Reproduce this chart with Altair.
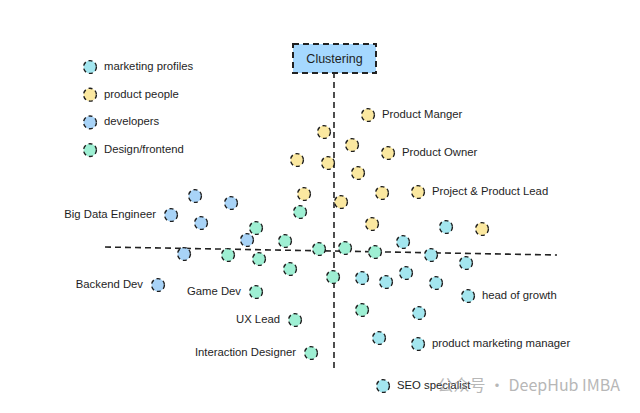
import altair as alt
import pandas as pd

# ---- data (position on the two clustering axes; centre = crossing point) ----
groups = ["marketing profiles", "product people", "developers", "Design/frontend"]
colors = ["#a3e6ef", "#fbe8a0", "#a8d3f7", "#9eefd3"]

marketing_x = [112, 69, 97, 132, 28, 52, 72, 102, 134, 85, 45, 84, 49]
marketing_y = [23, 8, -5, -13, -28, -32, -23, -33, -46, -63, -88, -94, -136]
marketing_lbl = ["", "", "", "", "", "", "", "", "head of growth", "", "",
                 "product marketing manager", "SEO specialist"]

product_x = [34, -10, 18, 54, -37, -6, 24, -30, 7, 48, 84, 38, 148]
product_y = [135, 118, 105, 97, 90, 87, 77, 56, 48, 57, 58, 26, 21]
product_lbl = ["Product Manger", "", "", "Product Owner", "", "", "", "", "", "",
               "Project & Product Lead", "", ""]

dev_x = [-139, -103, -163, -133, -87, -150, -176]
dev_y = [54, 47, 35, 27, 10, -4, -35]
dev_lbl = ["", "", "Big Data Engineer", "", "", "", "Backend Dev"]

design_x = [-34, -78, -49, -106, -75, -15, -44, -1, -78, -39, -23, 11, 41, 28]
design_y = [38, 22, 9, -5, -9, 1, -19, -27, -42, -70, -103, 2, -2, -60]
design_lbl = ["", "", "", "", "", "", "", "", "Game Dev", "UX Lead",
              "Interaction Designer", "", "", ""]

title_text = "Clustering"
watermark = "公众号 · DeepHub IMBA"

# ---- build tables ----
rows = []
for g, xs, ys, ls in [
    (groups[0], marketing_x, marketing_y, marketing_lbl),
    (groups[1], product_x, product_y, product_lbl),
    (groups[2], dev_x, dev_y, dev_lbl),
    (groups[3], design_x, design_y, design_lbl),
]:
    for x, y, l in zip(xs, ys, ls):
        side = "left" if g in ("developers", "Design/frontend") else "right"
        rows.append({"x": x, "y": y, "group": g, "label": l, "side": side})
pts = pd.DataFrame(rows)

legend_top, legend_step, legend_x = 183, -27.7, -244
legend = pd.DataFrame({
    "group": groups,
    "x": [legend_x] * 4,
    "y": [legend_top + i * legend_step for i in range(4)],
})

axes_df = pd.DataFrame({"x": [0, -229], "y": [-118, 3], "x2": [0, 223], "y2": [177, -5]})
box_df = pd.DataFrame({"x": [-41], "x2": [42], "y": [177], "y2": [206], "t": [title_text]})
wm_df = pd.DataFrame({"x": [286], "y": [-136], "t": [watermark]})

W, H = 624, 397
xs = alt.Scale(domain=[-326, 298], nice=False, zero=False)
ys = alt.Scale(domain=[-155, 242], nice=False, zero=False)
X = lambda f="x": alt.X(f"{f}:Q", scale=xs, axis=None)
Y = lambda f="y": alt.Y(f"{f}:Q", scale=ys, axis=None)
fill = alt.Fill("group:N", scale=alt.Scale(domain=groups, range=colors), legend=None)

FONT = "Liberation Sans"
FS = 11.3

rules = alt.Chart(axes_df).mark_rule(
    color="#222", strokeWidth=1.6, strokeDash=[6, 4]
).encode(x=X(), y=Y(), x2="x2:Q", y2="y2:Q")

box = alt.Chart(box_df).mark_rect(
    fill="#a5d8ff", stroke="#222", strokeWidth=2, strokeDash=[6, 4]
).encode(x=X(), x2="x2:Q", y=Y(), y2="y2:Q")

box_text = alt.Chart(box_df).mark_text(
    font=FONT, fontSize=12.5, color="#1e1e1e"
).encode(x=alt.X("mid:Q", scale=xs, axis=None), y=alt.Y("midy:Q", scale=ys, axis=None),
         text="t:N").transform_calculate(mid="(datum.x + datum.x2)/2", midy="(datum.y + datum.y2)/2")

point_style = dict(shape="circle", filled=True, size=165, stroke="#1e1e1e",
                   strokeWidth=1.4, strokeDash=[4, 3], opacity=1, fillOpacity=1)

points = alt.Chart(pts).mark_point(**point_style).encode(x=X(), y=Y(), fill=fill)

lbl_right = alt.Chart(pts).transform_filter(
    "datum.label != '' && datum.side == 'right'"
).mark_text(align="left", dx=14, font=FONT, fontSize=FS, color="#1e1e1e").encode(
    x=X(), y=Y(), text="label:N")

lbl_left = alt.Chart(pts).transform_filter(
    "datum.label != '' && datum.side == 'left'"
).mark_text(align="right", dx=-15, font=FONT, fontSize=FS, color="#1e1e1e").encode(
    x=X(), y=Y(), text="label:N")

leg_pts = alt.Chart(legend).mark_point(**point_style).encode(x=X(), y=Y(), fill=fill)
leg_txt = alt.Chart(legend).mark_text(
    align="left", dx=14, font=FONT, fontSize=FS, color="#1e1e1e"
).encode(x=X(), y=Y(), text="group:N")

wm = alt.Chart(wm_df).mark_text(
    align="right", font="Noto Sans CJK SC", fontSize=16, color="#999999", opacity=0.7
).encode(x=X(), y=Y(), text="t:N")

chart = alt.layer(rules, box, box_text, points, lbl_right, lbl_left, leg_pts, leg_txt, wm).properties(
    width=W, height=H, autosize=alt.AutoSizeParams(type="none"), padding=0
).configure_view(stroke=None)

chart.save("out.html", embed_options={"renderer": "svg", "actions": False})
